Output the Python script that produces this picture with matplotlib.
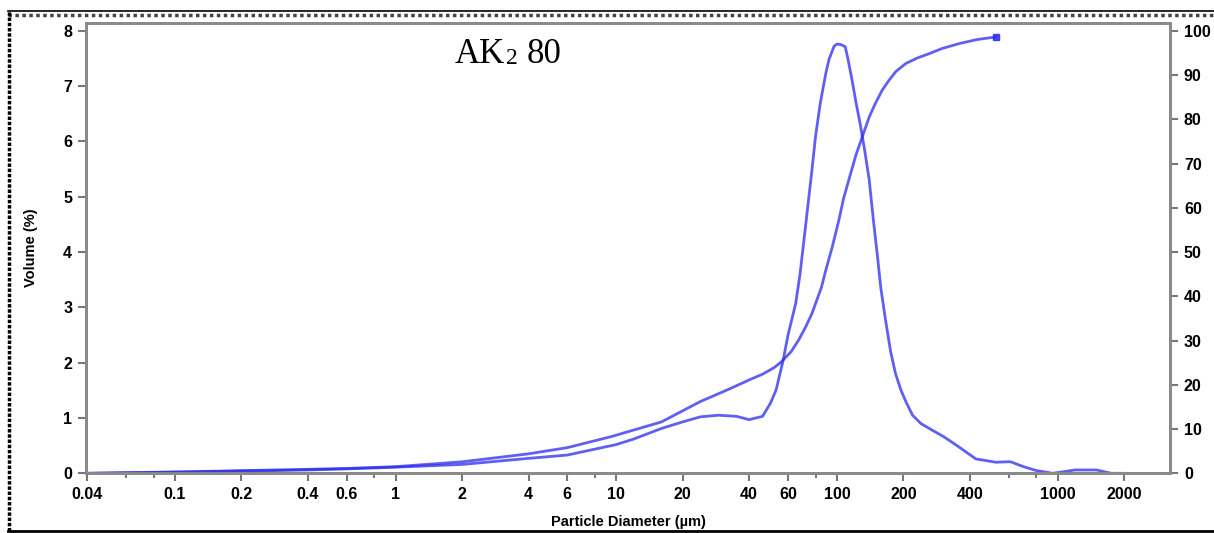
import matplotlib
matplotlib.use("Agg")
import matplotlib.pyplot as plt
from matplotlib.ticker import FixedLocator, FixedFormatter, NullFormatter
from matplotlib.lines import Line2D
from matplotlib.transforms import offset_copy

# particle size distribution
diameter = [0.04, 0.06, 0.1, 0.2, 0.4, 0.6, 1, 2, 4, 6, 10, 12, 16, 20, 24,
            29, 35, 40, 46, 50, 53, 57, 60, 65, 68, 72, 77, 80, 84, 89, 92,
            97, 100, 104, 109, 112, 117, 122, 128, 134, 140, 146, 152, 158,
            166, 175, 184, 195, 205, 220, 240, 270, 305, 350, 426, 525, 610,
            700, 800, 950, 1200, 1500, 1750, 2000]
volume = [0, 0.01, 0.02, 0.04, 0.06, 0.08, 0.11, 0.16, 0.27, 0.33, 0.52, 0.62,
          0.81, 0.93, 1.02, 1.05, 1.03, 0.97, 1.03, 1.27, 1.51, 2.04, 2.5,
          3.07, 3.6, 4.46, 5.48, 6.1, 6.69, 7.23, 7.48, 7.72, 7.76, 7.75,
          7.71, 7.5, 7.11, 6.7, 6.27, 5.8, 5.30, 4.6, 3.98, 3.35, 2.77, 2.2,
          1.81, 1.5, 1.3, 1.05, 0.9, 0.78, 0.66, 0.5, 0.26, 0.2, 0.21, 0.12,
          0.05, 0.0, 0.06, 0.06, 0.0, 0.0]

cum_diameter = [0.04, 0.1, 0.2, 0.4, 0.6, 1, 2, 4, 6, 9.5, 16, 24, 32, 40, 46,
                52, 56, 62, 67, 72, 77, 85, 89, 95, 102, 107, 113, 122, 131,
                140, 149, 160, 172, 185, 205, 230, 261, 300, 358, 430, 525]
cumulative = [0, 0.3, 0.6, 0.9, 1.1, 1.5, 2.6, 4.4, 5.8, 8.3, 11.6, 16.2, 18.9,
              21.1, 22.4, 23.9, 25.2, 27.5, 30.1, 33.0, 36.1, 42.0, 45.9,
              51.0, 57.2, 62.0, 66.2, 72.0, 76.4, 80.5, 83.5, 86.5, 88.8,
              90.8, 92.6, 93.8, 94.8, 96.0, 97.1, 98.0, 98.6]

x_major = [0.04, 0.1, 0.2, 0.4, 0.6, 1, 2, 4, 6, 10, 20, 40, 60, 100, 200,
           400, 1000, 2000]
x_labels = ["0.04", "0.1", "0.2", "0.4", "0.6", "1", "2", "4", "6", "10",
            "20", "40", "60", "100", "200", "400", "1000", "2000"]
x_minor = [0.06, 0.08, 0.8, 8, 80, 600, 800]
left_ticks = list(range(0, 9))
right_ticks = list(range(0, 101, 10))

W, H = 1214, 533
fig = plt.figure(figsize=(W / 100, H / 100), dpi=100)
ax = fig.add_axes([86 / W, (H - 473.3) / H, (1170 - 86) / W, (473.3 - 23) / H])
ax2 = ax.twinx()

line_col = "#2a2af0"
ax.plot(diameter, volume, color=line_col, alpha=0.75, lw=2,
        solid_joinstyle="round")
ax2.plot(cum_diameter, cumulative, color=line_col, alpha=0.75, lw=2,
         solid_joinstyle="round")
ax2.plot(cum_diameter[-1:], cumulative[-1:], "s", color=line_col, ms=4,
         alpha=0.85)

ax.set_xscale("log")
ax.set_xlim(0.0395, 3230)
ax.set_ylim(0, 8.14)
ax2.set_ylim(0, 8.14 * 12.5)

ax.xaxis.set_major_locator(FixedLocator(x_major))
ax.xaxis.set_major_formatter(FixedFormatter(x_labels))
ax.xaxis.set_minor_locator(FixedLocator(x_minor))
ax.xaxis.set_minor_formatter(NullFormatter())
ax.set_yticks(left_ticks)
ax2.set_yticks(right_ticks)

for a in (ax, ax2):
    for s in a.spines.values():
        s.set_color("#8a8a8a")
        s.set_linewidth(2)
    a.tick_params(which="major", length=6, width=1.5, color="#777777",
                  pad=4, labelcolor="black")
    a.tick_params(which="minor", length=3.5, width=1.5, color="#777777")
    for lab in a.get_xticklabels() + a.get_yticklabels():
        lab.set_family("Liberation Sans")
        lab.set_fontweight("bold")
        lab.set_fontsize(11.5)

ax.set_xlabel("Particle Diameter (µm)", family="Liberation Sans",
              weight="bold", size=10.5, labelpad=9)
ax.set_ylabel("Volume (%)", family="Liberation Sans", weight="bold",
              size=10.5, labelpad=18)

# sample name with a subscript, pieces chained one after another
renderer = fig.canvas.get_renderer()
t1 = fig.text(455 / W, 1 - 63.3 / H, "AK", family="Liberation Serif",
              size=25, ha="left", va="baseline")
w1 = t1.get_window_extent(renderer).width
t2 = fig.text(455 / W, 1 - 63.3 / H, "2", family="Liberation Serif", size=17,
              ha="left", va="baseline",
              transform=offset_copy(fig.transFigure, fig=fig, x=w1 + 1,
                                    y=-1, units="dots"))
w2 = t2.get_window_extent(renderer).width
fig.text(455 / W, 1 - 63.3 / H, "80", family="Liberation Serif", size=25,
         ha="left", va="baseline",
         transform=offset_copy(fig.transFigure, fig=fig, x=w1 + w2 + 10,
                               y=0, units="dots"))

# dotted frame around the picture
fig.add_artist(Line2D([8 / W, 1], [1 - 15 / H, 1 - 15 / H], color="#444444",
                      lw=2.5, ls=(0, (1, 1)), transform=fig.transFigure))
fig.add_artist(Line2D([8 / W, 1], [1 - 11 / H, 1 - 11 / H], color="black",
                      lw=1.2, transform=fig.transFigure))
fig.add_artist(Line2D([8.5 / W, 8.5 / W], [1 - 531 / H, 1 - 11 / H],
                      color="black", lw=2.5, ls=(0, (1, 0.5)),
                      transform=fig.transFigure))
fig.add_artist(Line2D([8 / W, 1], [1 - 531 / H, 1 - 531 / H], color="black",
                      lw=2, transform=fig.transFigure))

fig.savefig("out.png", dpi=100)
